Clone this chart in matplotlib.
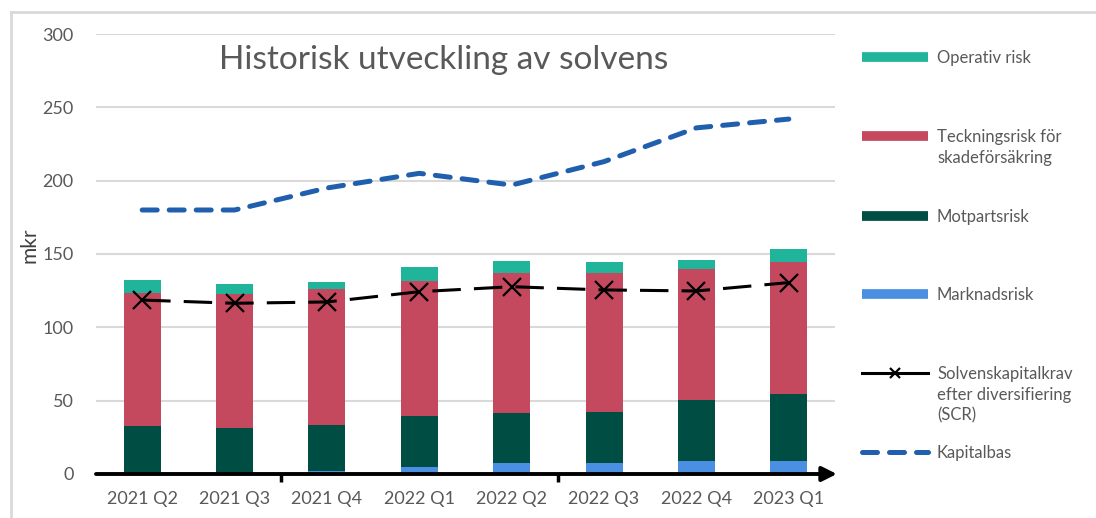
import numpy as np
import matplotlib
matplotlib.use('Agg')
import matplotlib.pyplot as plt
from matplotlib.lines import Line2D

plt.rcParams['font.family'] = ['Lato', 'DejaVu Sans']

# data (mkr)
quarters = ['2021 Q2', '2021 Q3', '2021 Q4', '2022 Q1',
            '2022 Q2', '2022 Q3', '2022 Q4', '2023 Q1']
marknadsrisk = [0, 0, 2, 4.5, 7.3, 7.3, 8.9, 8.9]
motpartsrisk = [32.7, 31.6, 31.4, 35.0, 34.1, 35.0, 41.8, 45.4]
teckningsrisk = [90.9, 90.9, 92.7, 91.9, 95.4, 94.5, 89.3, 90.0]
operativ_risk = [8.7, 7.0, 5.0, 9.6, 8.4, 7.5, 6.1, 8.9]
scr = [118.6, 116.4, 117.3, 124.3, 127.7, 125.5, 124.8, 130.5]
kapitalbas = [180, 180, 195, 205, 197, 213, 236, 242]

col_op = '#20b59b'
col_teck = '#c4495f'
col_mot = '#004d43'
col_mark = '#4a8fe2'
col_kap = '#1f5fae'
grey = '#595959'

fig = plt.figure(figsize=(10.96, 5.18), dpi=100)
ax = fig.add_axes([96 / 1096, 44 / 518, 739 / 1096, 440 / 518])

x = np.arange(len(quarters))
w = 0.40
b1 = np.array(marknadsrisk)
b2 = b1 + np.array(motpartsrisk)
b3 = b2 + np.array(teckningsrisk)
ax.bar(x, marknadsrisk, w, color=col_mark, zorder=2)
ax.bar(x, motpartsrisk, w, bottom=b1, color=col_mot, zorder=2)
ax.bar(x, teckningsrisk, w, bottom=b2, color=col_teck, zorder=2)
ax.bar(x, operativ_risk, w, bottom=b3, color=col_op, zorder=2)

ax.plot(x, scr, color='black', lw=2.2, ls=(0, (9.3, 4.3)), marker='x',
        markersize=13, markeredgewidth=1.6, zorder=4)
ax.plot(x, kapitalbas, color=col_kap, lw=3.6, ls=(0, (3.0, 2.4)),
        dash_capstyle='round', zorder=3)

ax.set_xlim(-0.5, 7.5)
ax.set_ylim(0, 300)
ax.set_yticks(np.arange(0, 301, 50))
ax.grid(axis='y', color='#d9d9d9', lw=1.5, zorder=0)
ax.set_axisbelow(True)
for s in ax.spines.values():
    s.set_visible(False)

ax.set_xticks(x)
ax.set_xticklabels(quarters)
ax.set_xticks([1.5, 4.5], minor=True)
ax.tick_params(axis='x', which='major', length=0, pad=12, labelsize=13, labelcolor=grey)
ax.tick_params(axis='x', which='minor', length=6, width=2.5, color='black', direction='out')
ax.tick_params(axis='y', length=0, pad=16, labelsize=13, labelcolor=grey)

# x axis with arrow
ax.annotate('', xy=(7.52, 0), xytext=(-0.5, 0),
            arrowprops=dict(arrowstyle='-|>', color='black', lw=2.8, mutation_scale=22,
                            shrinkA=0, shrinkB=0),
            annotation_clip=False, zorder=5)

ax.set_ylabel('mkr', fontsize=15, color='#404040')
ax.yaxis.set_label_coords(-0.077, 0.52)

ax.text(0.471, 0.920, 'Historisk utveckling av solvens', transform=ax.transAxes,
        ha='center', va='baseline', fontsize=24, color=grey)

# outer frame (left and top edges visible)
fig.add_artist(Line2D([11 / 1096, 11 / 1096], [0, 1 - 12 / 518], color='#d9d9d9', lw=2))
fig.add_artist(Line2D([11 / 1096, 1], [1 - 12 / 518, 1 - 12 / 518], color='#d9d9d9', lw=2))

# legend, laid out like the original
legend_items = [
    ('Operativ risk', 57, dict(color=col_op, lw=7, solid_capstyle='butt')),
    ('Teckningsrisk för\nskadeförsäkring', 136, dict(color=col_teck, lw=7, solid_capstyle='butt')),
    ('Motpartsrisk', 216, dict(color=col_mot, lw=7, solid_capstyle='butt')),
    ('Marknadsrisk', 294, dict(color=col_mark, lw=7, solid_capstyle='butt')),
    ('Solvenskapitalkrav\nefter diversifiering\n(SCR)', 373,
     dict(color='black', lw=2.2, marker='x', markersize=7, markeredgewidth=1.6,
          markevery=[1])),
    ('Kapitalbas', 452, dict(color=col_kap, lw=3.6, ls=(0, (3.0, 2.4)), dash_capstyle='round')),
]
for label, ypx, style in legend_items:
    yf = 1 - ypx / 518
    if 'marker' in style:
        fig.add_artist(Line2D([862 / 1096, 895 / 1096, 928 / 1096], [yf, yf, yf], **style))
    else:
        fig.add_artist(Line2D([862 / 1096, 928 / 1096], [yf, yf], **style))
    fig.text(937 / 1096, yf + 7 / 518, label, ha='left', va='top', fontsize=12,
             color=grey, linespacing=1.35)

fig.savefig('out.png', dpi=100)
